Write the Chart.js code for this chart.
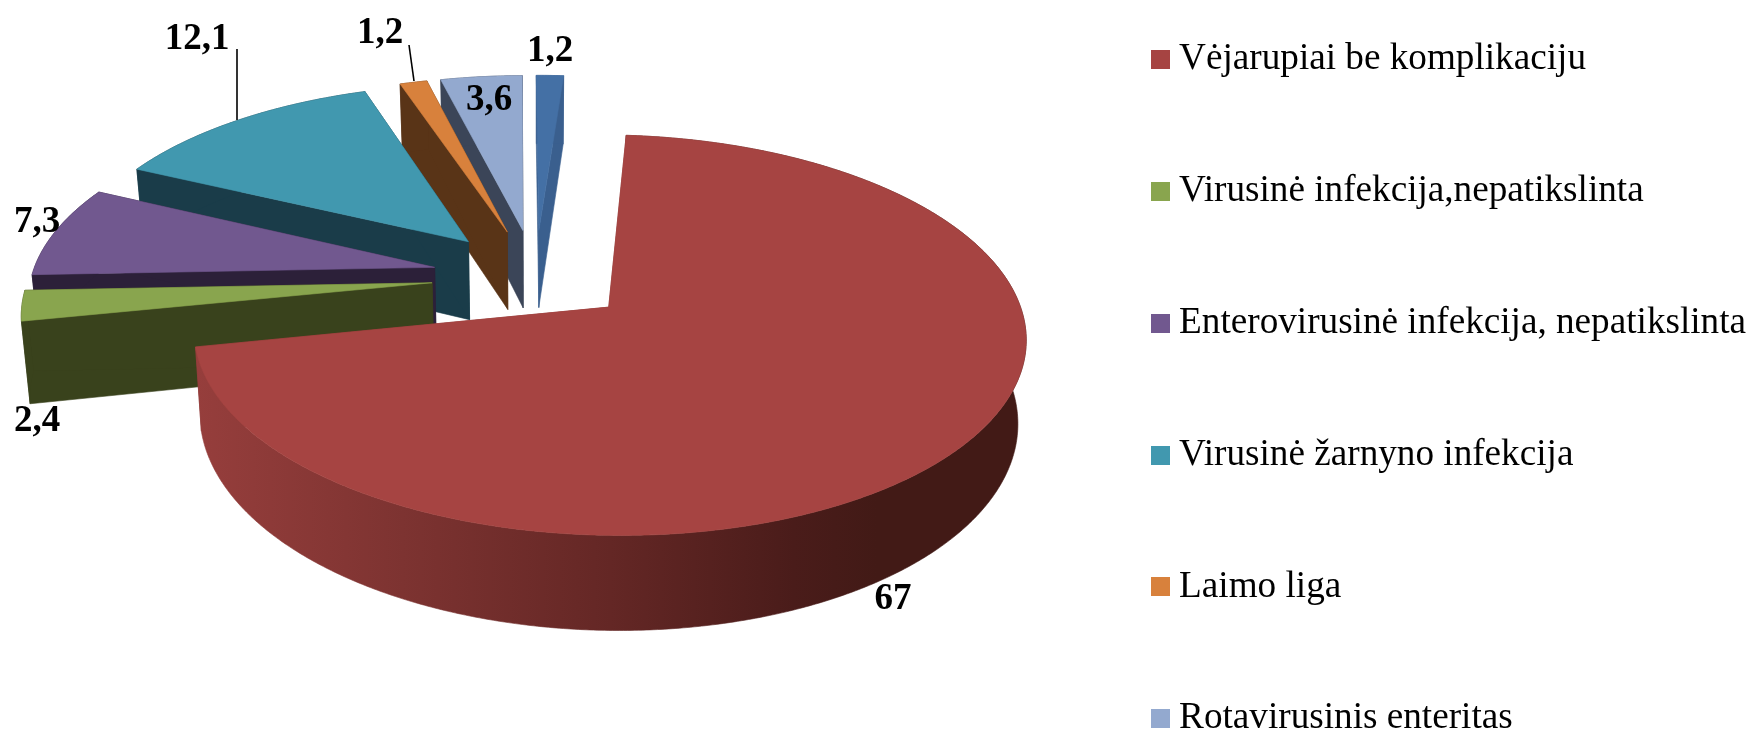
<!DOCTYPE html>
<html>
<head>
<meta charset="utf-8">
<style>
html,body{margin:0;padding:0;background:#fff;overflow:hidden}
#wrap{width:1752px;height:731px;overflow:hidden;position:relative}
canvas{display:block}
</style>
<script src="https://cdn.jsdelivr.net/npm/chart.js@4/dist/chart.umd.min.js"></script>
</head>
<body>
<div id="wrap"><canvas id="c" width="1752" height="1000"></canvas></div>
<script>
// ---- data ----
const categories = [
  "Vėjarupiai be komplikaciju",
  "Virusinė infekcija,nepatikslinta",
  "Enterovirusinė infekcija, nepatikslinta",
  "Virusinė žarnyno infekcija",
  "Laimo liga",
  "Rotavirusinis enteritas",
  ""
];
const values = [67, 2.4, 7.3, 12.1, 1.2, 3.6, 1.2];

// ---- styles ----
const topColors  = ["#a64442","#89a54e","#71588f","#4198af","#d8813c","#93a9cf","#4470a5"];
const wallColors = ["#8a3836","#39421c","#2c2039","#1a3c49","#593417","#3b4558","#3a5f8e"];
const redRimStops = [[0,"#963e3c"],[0.25,"#7d3331"],[0.5,"#642725"],[0.72,"#4a1c1a"],[0.82,"#421a16"],[1,"#421a16"]];
const drawOrder = [6,5,4,3,2,1,0];

// projection of the pie plane
const proj = {cx:535.5, cy:277, A:403, B:188, k:0.137, D:80, shrink:0.983};
const explode = [105,114,114,114,114,114,114];

// label placement
const labelPos = [[893,599],[37,421],[37,222],[197,39],[380,33],[489,100],[550,51]];
const leaders = {3:[[237,49],[237,120]], 4:[[409,45],[414,81]]};

function project(u,v){
  const w = 1 + proj.k*v;
  return {x: proj.cx + proj.A*u/w, y: proj.cy - proj.B*v/w, w};
}
function lower(p){
  return {x: proj.cx + (p.x-proj.cx)*proj.shrink, y: p.y + proj.D/p.w};
}

const pie3d = {
  id:'pie3d',
  beforeDraw(chart){
    const lg = chart.legend;
    const w = lg.right - lg.left;
    lg.left = 1160.5 - lg.options.labels.padding;
    lg.right = lg.left + w;
    const h = lg.bottom - lg.top;
    lg.top = 62 - lg.options.labels.padding - lg._computeTitleHeight() - 21;
    lg.bottom = lg.top + h;
  },
  beforeDatasetsDraw(chart){
    const ctx = chart.ctx;
    const arcs = chart.getDatasetMeta(0).data;
    drawOrder.forEach(i=>{
      const arc = arcs[i];
      const {startAngle,endAngle,outerRadius} = arc.getProps(['startAngle','endAngle','outerRadius'],true);
      const off = arc.options.offset/outerRadius;
      const mid = (startAngle+endAngle)/2;
      const ox = off*Math.cos(mid), oy = off*Math.sin(mid);
      const pt = (a,r)=>project(ox + r*Math.cos(a), -(oy + r*Math.sin(a)));
      const n = Math.max(4,Math.ceil((endAngle-startAngle)/0.008));
      const rim=[];
      for(let j=0;j<=n;j++) rim.push(pt(startAngle+(endAngle-startAngle)*j/n,1));
      const apex = pt(mid,0);
      const poly=(pts,fill)=>{
        ctx.beginPath();
        pts.forEach((p,j)=> j?ctx.lineTo(p.x,p.y):ctx.moveTo(p.x,p.y));
        ctx.closePath();
        ctx.fillStyle=fill; ctx.fill();
        ctx.strokeStyle=fill; ctx.lineWidth=0.6; ctx.stroke();
      };
      // radial walls
      poly([apex,rim[0],lower(rim[0]),lower(apex)],wallColors[i]);
      poly([apex,rim[n],lower(rim[n]),lower(apex)],wallColors[i]);
      // outer wall
      let rimFill = wallColors[i];
      if(i===0){
        const xs = rim.map(p=>p.x);
        const g = ctx.createLinearGradient(Math.min(...xs),0,Math.max(...xs),0);
        redRimStops.forEach(s=>g.addColorStop(s[0],s[1]));
        rimFill = g;
      }
      poly(rim.concat(rim.slice().reverse().map(lower)),rimFill);
      // top face
      poly([apex].concat(rim),topColors[i]);
    });
    return false;
  },
  afterDraw(chart){
    const ctx = chart.ctx;
    ctx.save();
    ctx.strokeStyle="#000"; ctx.lineWidth=1.6;
    Object.values(leaders).forEach(l=>{
      ctx.beginPath();ctx.moveTo(l[0][0],l[0][1]);ctx.lineTo(l[1][0],l[1][1]);ctx.stroke();
    });
    ctx.fillStyle="#000";
    ctx.font="bold 37px 'Liberation Serif'";
    ctx.textAlign="center"; ctx.textBaseline="middle";
    values.forEach((v,i)=>{
      ctx.fillText(String(v).replace('.',','),labelPos[i][0],labelPos[i][1]);
    });
    ctx.restore();
  }
};

function swatch(color){
  const c=document.createElement('canvas');
  c.width=19;c.height=19;
  const x=c.getContext('2d');x.fillStyle=color;x.fillRect(0,0,19,19);
  return c;
}

new Chart(document.getElementById('c'),{
  type:'pie',
  data:{labels:categories,datasets:[{
    data:values,
    backgroundColor:topColors,
    borderWidth:0,
    offset:explode
  }]},
  options:{
    responsive:false,
    animation:false,
    rotation:4.2,
    plugins:{
      tooltip:{enabled:false},
      legend:{
        display:true,
        position:'right',
        align:'start',
        labels:{
          color:'#000',
          font:{family:"'Liberation Serif'",size:37.2},
          padding:94.6,
          usePointStyle:true,
          pointStyleWidth:0.01,
          filter:item=>item.text!=="",
          generateLabels(chart){
            return Chart.overrides.pie.plugins.legend.labels.generateLabels(chart)
              .map((it,i)=>Object.assign(it,{pointStyle:swatch(topColors[i])}));
          }
        }
      }
    }
  },
  plugins:[pie3d]
});
</script>
</body>
</html>
